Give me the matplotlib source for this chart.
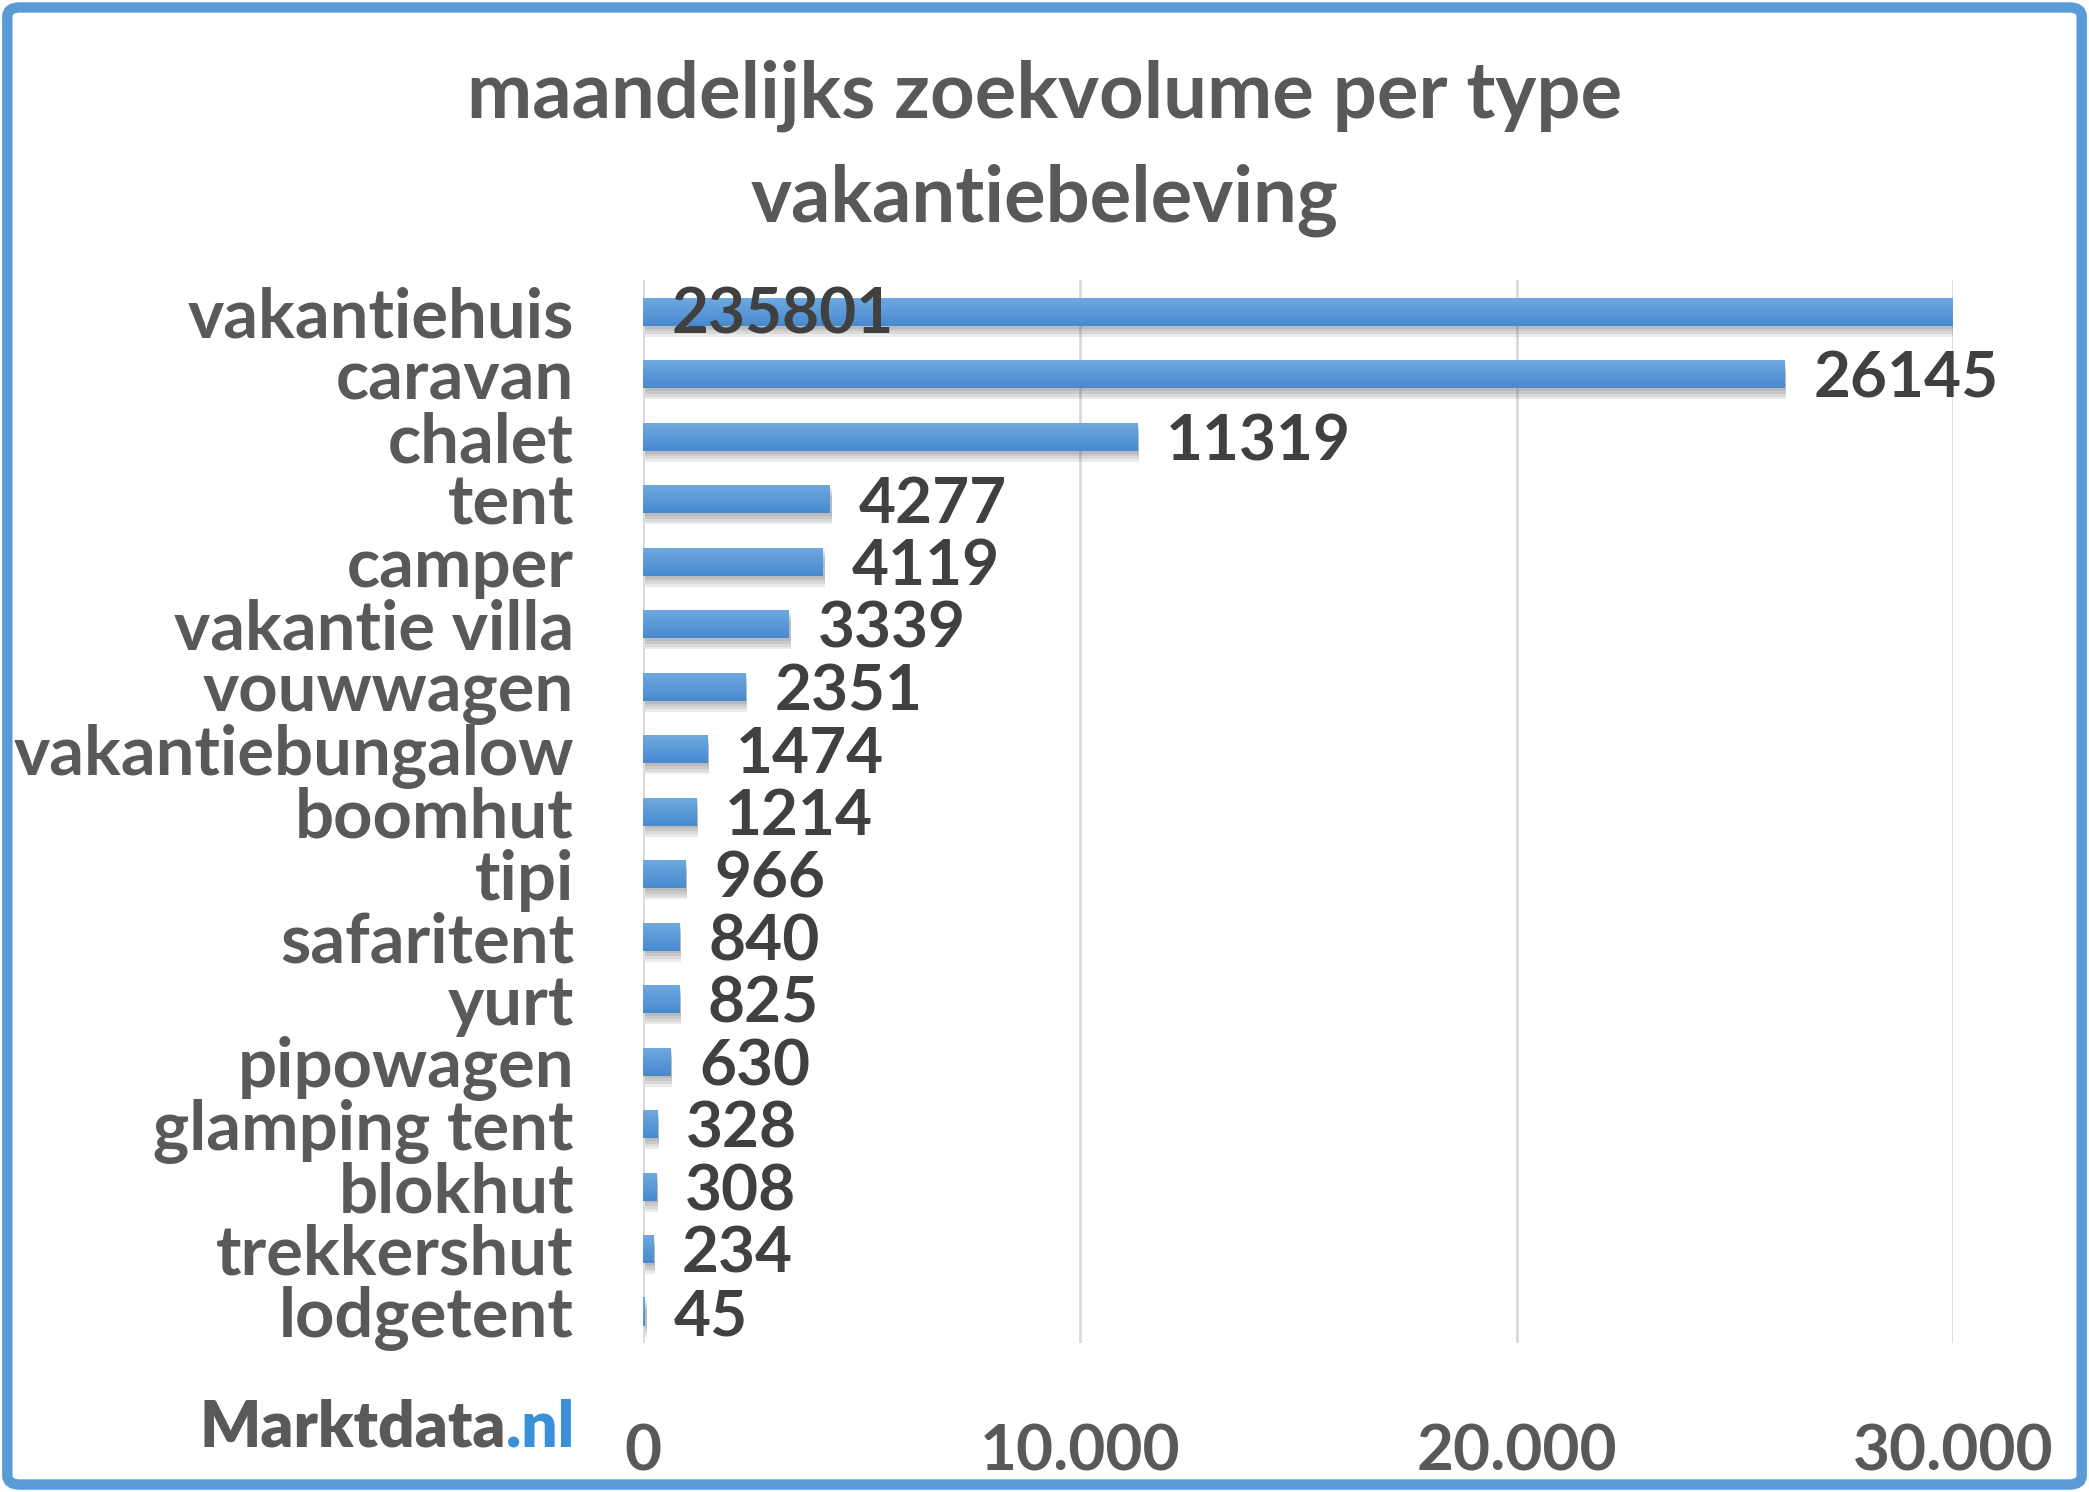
import numpy as np
import matplotlib
matplotlib.use("Agg")
import matplotlib.pyplot as plt
import matplotlib.patheffects as pe
from matplotlib.patches import FancyBboxPatch
from matplotlib.ticker import FuncFormatter

# data, top to bottom as in the chart
categories = ["vakantiehuis", "caravan", "chalet", "tent", "camper", "vakantie villa",
              "vouwwagen", "vakantiebungalow", "boomhut", "tipi", "safaritent", "yurt",
              "pipowagen", "glamping tent", "blokhut", "trekkershut", "lodgetent"]
volumes = [235801, 26145, 11319, 4277, 4119, 3339, 2351, 1474, 1214, 966, 840, 825,
           630, 328, 308, 234, 45]
x_ticks = [0, 10000, 20000, 30000]

FONT = "Lato"
GREY = "#595959"
DARK = "#404040"
BLUE = "#5b9bd5"

fig = plt.figure(figsize=(20.89, 14.92), dpi=100, facecolor="white")
ax = fig.add_axes([0.308, 0.100, 0.627, 0.712])

x_max = x_ticks[-1]
ypos = np.arange(len(categories))[::-1]

# gridlines behind the bars
for t in x_ticks:
    ax.axvline(t, color="#d9d9d9", lw=2, zorder=0)

# soft drop shadow: a few faint offset copies
shadow = [pe.SimplePatchShadow(offset=(1, -d), shadow_rgbFace="#444444", alpha=0.10)
          for d in (2, 4, 6, 8)]
bars = ax.barh(ypos, volumes, height=0.45, color=BLUE, zorder=2,
               path_effects=shadow + [pe.Normal()])

# light-to-dark gradient on each bar
grad = np.linspace(0, 1, 64).reshape(-1, 1)
cmap = matplotlib.colors.LinearSegmentedColormap.from_list("bar", ["#70aae0", "#4889cf"])
for b in bars:
    x0, y0 = b.get_x(), b.get_y()
    w, h = min(b.get_width(), x_max), b.get_height()
    im = ax.imshow(grad, extent=[x0, x0 + w, y0, y0 + h], cmap=cmap, aspect="auto", zorder=3)
    im.set_clip_path(b)

ax.set_xlim(0, x_max)
ax.set_ylim(-0.5, len(categories) - 0.5)

# value labels
for y, v in zip(ypos, volumes):
    if v > x_max:
        ax.text(650, y - 0.05, str(v), ha="left", va="center", fontsize=46, fontweight="bold",
                family=FONT, color=DARK, zorder=5)
    else:
        ax.text(v + 650, y - 0.08, str(v), ha="left", va="center", fontsize=46,
                fontweight="bold", family=FONT, color=DARK, zorder=5)

ax.set_yticks(ypos)
ax.set_yticklabels(categories, fontsize=49.5, fontweight="bold", family=FONT, color=GREY)
ax.set_xticks(x_ticks)
ax.xaxis.set_major_formatter(FuncFormatter(lambda v, p: f"{int(v):,}".replace(",", ".")))
for lbl in ax.get_xticklabels():
    lbl.set_fontsize(46)
    lbl.set_fontweight("bold")
    lbl.set_family(FONT)
    lbl.set_color(GREY)
ax.tick_params(axis="y", length=0, pad=50)
ax.tick_params(axis="x", length=0, pad=58)
for s in ax.spines.values():
    s.set_visible(False)

# title
fig.text(0.5, 0.936, "maandelijks zoekvolume per type", ha="center", va="center",
         fontsize=56, fontweight="bold", family=FONT, color=GREY)
fig.text(0.5, 0.866, "vakantiebeleving", ha="center", va="center",
         fontsize=56, fontweight="bold", family=FONT, color=GREY)

# logo
fig.text(0.242, 0.043, "Marktdata", ha="right", va="center", fontsize=46,
         fontweight="heavy", family=FONT, color=GREY)
fig.text(0.242, 0.043, ".nl", ha="left", va="center", fontsize=46,
         fontweight="heavy", family=FONT, color="#3a8fd9")

# rounded blue frame
frame = FancyBboxPatch((0.0035, 0.005), 0.993, 0.99, boxstyle="round,pad=0,rounding_size=0.006",
                       transform=fig.transFigure, fill=False, edgecolor=BLUE, lw=7.5)
fig.patches.append(frame)

fig.savefig("out.png", dpi=100, facecolor="white")
